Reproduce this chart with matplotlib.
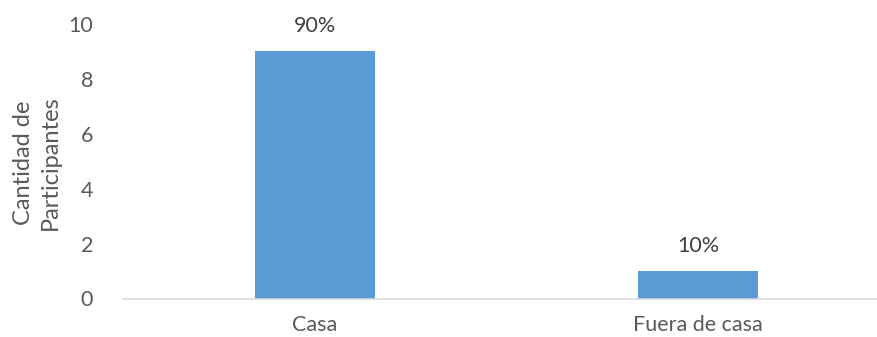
import matplotlib
matplotlib.use("Agg")
import matplotlib.pyplot as plt

categories = ["Casa", "Fuera de casa"]
participants = [9, 1]
percent_labels = ["90%", "10%"]
y_ticks = [0, 2, 4, 6, 8, 10]

W, H = 878, 337
fig = plt.figure(figsize=(W / 100, H / 100), dpi=100)
plt.rcParams["font.family"] = ["Lato", "DejaVu Sans"]

left, right = 123.5, 878
top, bottom = 24, 298.5
ax = fig.add_axes([left / W, (H - bottom) / H, (right - left) / W, (bottom - top) / H])

text_color = "#595959"
fs = 15.5
x = list(range(len(categories)))
bars = ax.bar(x, participants, width=0.315, color="#5B9BD5", zorder=2)

for xi, v, lab in zip(x, participants, percent_labels):
    ax.annotate(lab, (xi, v), xytext=(0, 18), textcoords="offset points",
                ha="center", va="center", fontsize=fs, color="#404040")

ax.set_xlim(-0.5, 1.47)
ax.set_ylim(0, 10)
ax.set_yticks(y_ticks)
ax.set_xticks(x)
ax.set_xticklabels(categories)
ax.tick_params(axis="both", length=0, labelsize=fs, colors=text_color)
ax.tick_params(axis="y", pad=22)
ax.tick_params(axis="x", pad=12)

for s in ["top", "right", "left"]:
    ax.spines[s].set_visible(False)
ax.spines["bottom"].set_color("#D9D9D9")
ax.spines["bottom"].set_linewidth(1.2)

fig.text(37 / W, (H - 163) / H, "Cantidad de\nParticipantes", rotation=90,
         ha="center", va="center", fontsize=17, color=text_color,
         multialignment="center", linespacing=1.3)

fig.savefig("out.png", dpi=100)
